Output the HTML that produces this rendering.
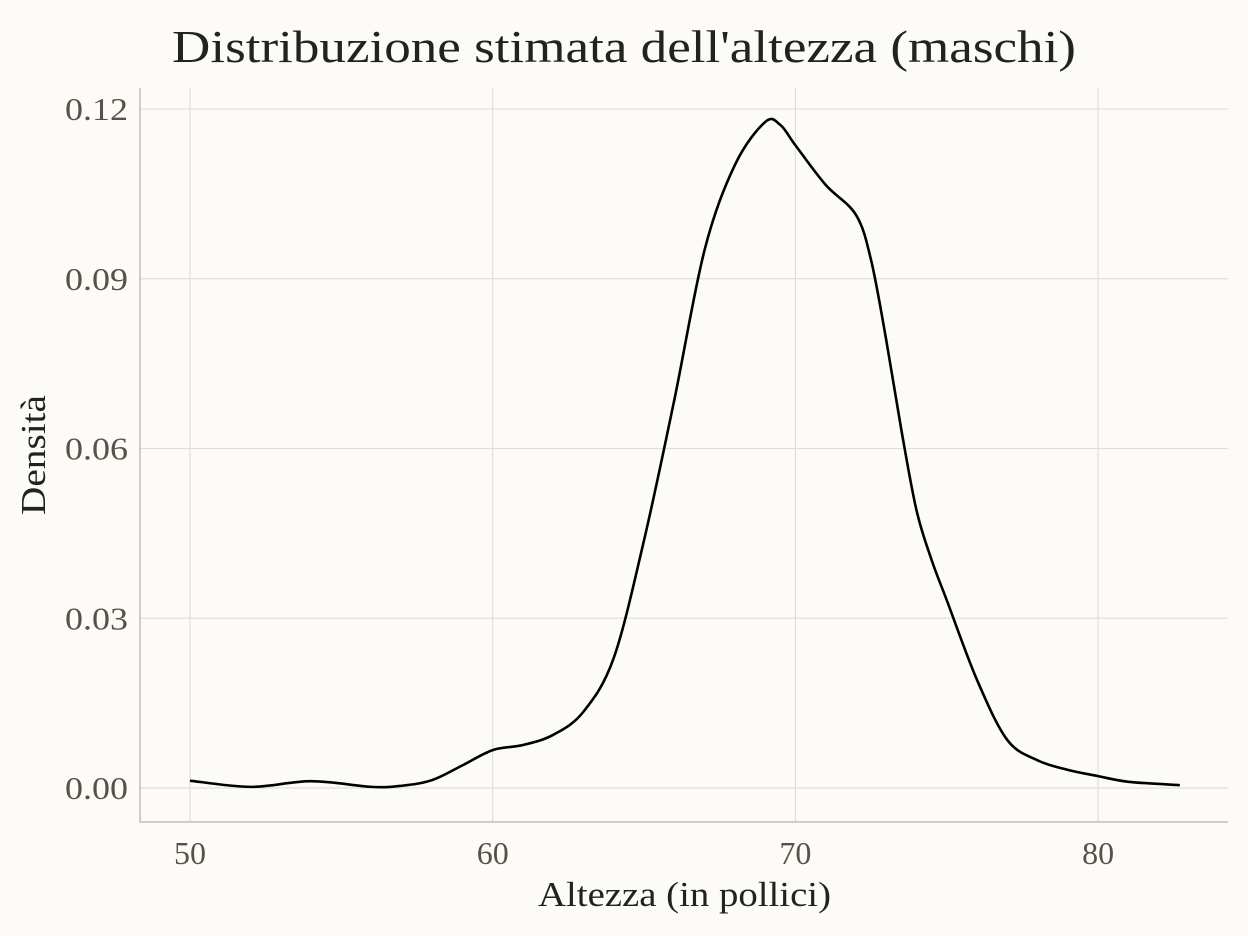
<!DOCTYPE html>
<html><head><meta charset="utf-8"><style>
body{margin:0;background:#fcfbf7;}
svg{display:block;font-family:"Liberation Serif",serif;}
</style></head><body>
<svg id="chart" width="1248" height="936">
<rect width="1248" height="936" fill="#fcfbf7"/>
<text x="172" y="62" textLength="904" lengthAdjust="spacingAndGlyphs" font-size="46" fill="#222">Distribuzione stimata dell'altezza (maschi)</text>
<g id="grid"></g><g id="axes"></g><g id="series"></g>
<text x="538" y="906" textLength="293" lengthAdjust="spacingAndGlyphs" font-size="35" fill="#222">Altezza (in pollici)</text>
<text transform="translate(45,515) rotate(-90)" textLength="120" lengthAdjust="spacingAndGlyphs" font-size="35" fill="#222">Densità</text>
</svg>
<script>
const xs=[50,52,54,56,57,58,59,60,61,62,63,64,65,66,67,68,69,69.5,70,71,72,72.5,73,73.5,74,74.5,75,76,77,78,79,80,81,82.7];
const ys=[0.0013,0.0002,0.0012,0.0002,0.0004,0.0014,0.004,0.0067,0.0076,0.0094,0.0135,0.0230,0.0438,0.0686,0.0951,0.1101,0.1177,0.1172,0.1136,0.1066,0.1013,0.0933,0.0792,0.0633,0.0491,0.0403,0.0332,0.0191,0.0085,0.0049,0.0032,0.0021,0.0011,0.0005];
const xTicks=[50,60,70,80];
const yTicks=[0,0.03,0.06,0.09,0.12];
const yLabels=["0.00","0.03","0.06","0.09","0.12"];
const X=v=>190+(v-50)*30.27;
const Y=v=>788-v*5658;
const NS="http://www.w3.org/2000/svg";
const grid=document.getElementById('grid'),axes=document.getElementById('axes'),ser=document.getElementById('series');
function mk(tag,attrs,parent){const e=document.createElementNS(NS,tag);for(const k in attrs)e.setAttribute(k,attrs[k]);parent.appendChild(e);return e;}
xTicks.forEach(t=>{
 const l=mk('line',{x1:X(t),x2:X(t),y1:88,y2:822,stroke:'#e0deda','stroke-width':1.2},grid);
 
 
 const tx=mk('text',{x:X(t),y:864,'text-anchor':'middle','font-size':32,fill:'#5a5048'},axes);tx.textContent=t;
 
 
});
yTicks.forEach((t,i)=>{
 const l=mk('line',{x1:140,x2:1228,y1:Y(t),y2:Y(t),stroke:'#e0deda','stroke-width':1.2},grid);
 
 
 const tx=mk('text',{x:128,y:Y(t)+11,'text-anchor':'end','font-size':32,textLength:63,lengthAdjust:'spacingAndGlyphs',fill:'#5a5048'},axes);tx.textContent=yLabels[i];
 
 
});
const ax=mk('path',{d:'M140,88V822H1228',fill:'none',stroke:'#b8b5b0','stroke-width':1.3},axes);


const P=xs.map((x,i)=>[X(x),Y(ys[i])]);
let d='M'+P[0][0]+','+P[0][1];
for(let i=0;i<P.length-1;i++){
 const p0=P[Math.max(0,i-1)],p1=P[i],p2=P[i+1],p3=P[Math.min(P.length-1,i+2)];
 d+=` C${p1[0]+(p2[0]-p0[0])/6},${p1[1]+(p2[1]-p0[1])/6} ${p2[0]-(p3[0]-p1[0])/6},${p2[1]-(p3[1]-p1[1])/6} ${p2[0]},${p2[1]}`;
}
const line=mk('path',{d:d,fill:'none',stroke:'#000','stroke-width':2.6},ser);


</script>
</body></html>
